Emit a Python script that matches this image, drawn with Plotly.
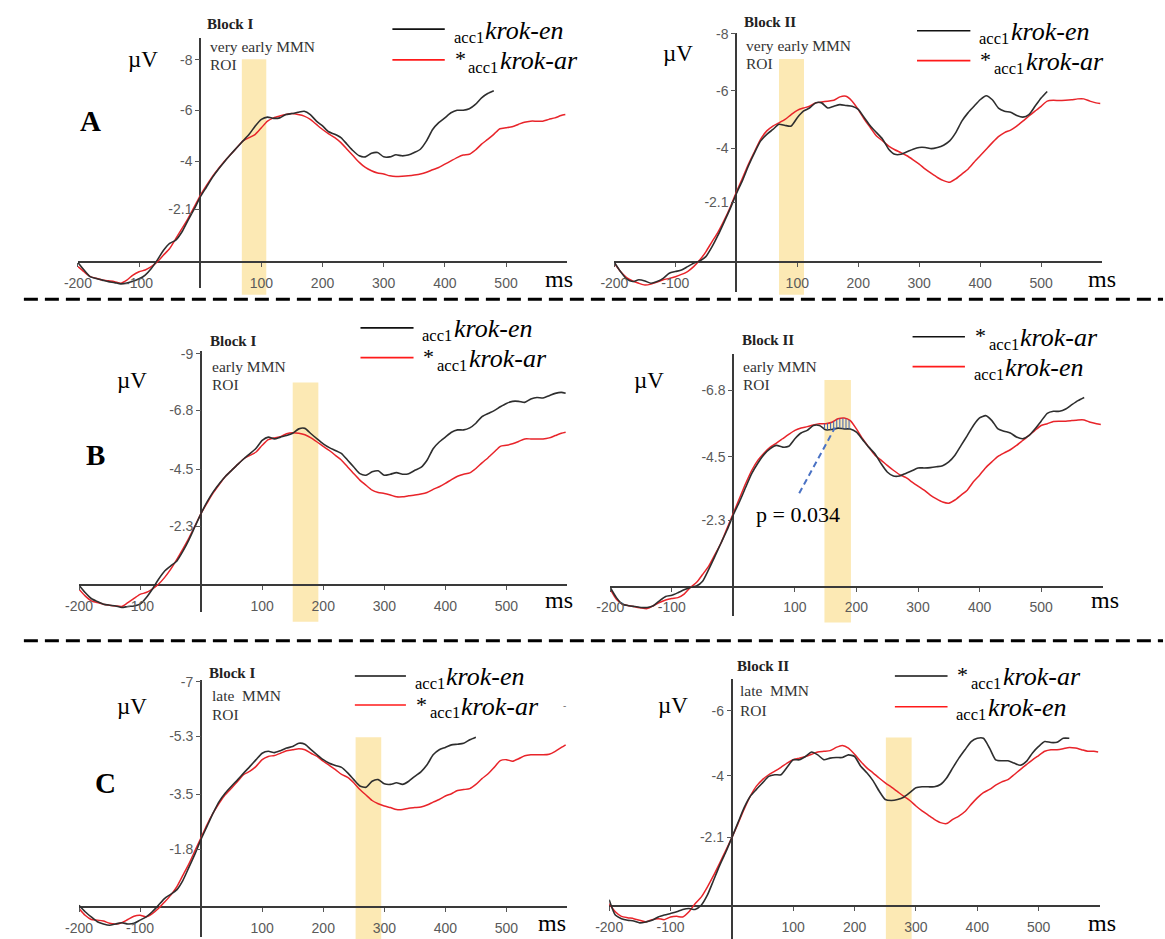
import numpy as np
import plotly.graph_objects as go

W, H = 1165, 939
TIME = list(range(-200, 600, 10)) + [597]   # ms

# ---------------- Row A : very early MMN ROI ----------------
A1_EN = [0.0, 0.3, 0.56, 0.64, 0.7, 0.76, 0.8, 0.85, 0.82, 0.75, 0.65, 0.5, 0.24, -0.1, -0.48, -0.75,
         -0.88, -1.2, -1.66, -2.1, -2.58, -2.97, -3.36, -3.69, -3.99, -4.27, -4.54, -4.8, -5.06, -5.39,
         -5.65, -5.74, -5.69, -5.71, -5.84, -5.88, -5.93, -5.97, -5.84, -5.58, -5.39, -5.16, -5.06, -4.93,
         -4.67, -4.41, -4.21, -4.17, -4.31, -4.34, -4.17, -4.17, -4.25, -4.21, -4.24, -4.34, -4.47, -4.8,
         -5.25, -5.52, -5.71, -5.91, -6.01, -6.01, -6.07, -6.24, -6.5, -6.67, -6.78]
A1_AR = [0.17, 0.37, 0.56, 0.63, 0.7, 0.73, 0.76, 0.82, 0.7, 0.5, 0.37, 0.3, 0.17, -0.03, -0.29, -0.55,
         -0.94, -1.33, -1.73, -2.18, -2.64, -3.03, -3.4, -3.71, -4.01, -4.27, -4.54, -4.8, -4.93, -5.06,
         -5.32, -5.58, -5.71, -5.78, -5.84, -5.88, -5.84, -5.78, -5.65, -5.45, -5.25, -5.08, -4.93, -4.73,
         -4.47, -4.21, -3.95, -3.75, -3.62, -3.53, -3.49, -3.42, -3.39, -3.4, -3.42, -3.45, -3.49, -3.56,
         -3.66, -3.75, -3.88, -4.01, -4.14, -4.24, -4.27, -4.44, -4.67, -4.86, -5.06, -5.28, -5.32, -5.36,
         -5.45, -5.54, -5.58, -5.58, -5.58, -5.65, -5.71, -5.8, -5.84]
A2_EN = [0.0, 0.32, 0.58, 0.67, 0.61, 0.65, 0.73, 0.67, 0.56, 0.38, 0.32, 0.27, 0.15, 0.03, -0.05, -0.2,
         -0.54, -0.95, -1.41, -1.88, -2.4, -2.86, -3.38, -3.84, -4.25, -4.48, -4.65, -4.83, -4.79, -4.77,
         -5.06, -5.29, -5.4, -5.58, -5.58, -5.4, -5.46, -5.52, -5.49, -5.46, -5.35, -5.06, -4.77, -4.54,
         -4.31, -3.96, -3.78, -3.78, -3.87, -3.96, -4.02, -4.02, -3.98, -4.02, -4.1, -4.25, -4.54, -4.94,
         -5.23, -5.46, -5.69, -5.83, -5.69, -5.4, -5.29, -5.25, -5.14, -5.08, -5.17, -5.46, -5.75, -5.98]
A2_AR = [0.03, 0.32, 0.53, 0.65, 0.73, 0.79, 0.76, 0.69, 0.61, 0.56, 0.5, 0.42, 0.32, 0.15, -0.08, -0.37,
         -0.72, -1.06, -1.47, -1.93, -2.45, -2.94, -3.44, -3.88, -4.31, -4.6, -4.77, -4.88, -5.0, -5.17,
         -5.32, -5.4, -5.46, -5.58, -5.61, -5.64, -5.67, -5.79, -5.81, -5.64, -5.35, -5.0, -4.71, -4.42,
         -4.25, -4.07, -3.94, -3.84, -3.73, -3.59, -3.44, -3.26, -3.11, -2.97, -2.86, -2.8, -2.92, -3.09,
         -3.26, -3.5, -3.73, -3.96, -4.19, -4.4, -4.54, -4.63, -4.77, -4.94, -5.12, -5.29, -5.46, -5.64,
         -5.67, -5.66, -5.67, -5.69, -5.72, -5.72, -5.64, -5.58, -5.56]

# ---------------- Row B : early MMN ROI ----------------
B1_EN = [0.0, 0.28, 0.51, 0.63, 0.73, 0.77, 0.8, 0.86, 0.82, 0.8, 0.73, 0.48, 0.15, -0.23, -0.55, -0.75,
         -0.94, -1.32, -1.77, -2.29, -2.8, -3.25, -3.64, -3.96, -4.24, -4.47, -4.7, -4.92, -5.12, -5.33,
         -5.63, -5.76, -5.69, -5.76, -5.82, -5.91, -6.08, -6.1, -5.89, -5.69, -5.5, -5.35, -5.24, -5.12,
         -4.86, -4.6, -4.34, -4.28, -4.41, -4.45, -4.28, -4.32, -4.38, -4.32, -4.34, -4.47, -4.58, -4.86,
         -5.31, -5.57, -5.76, -5.95, -6.04, -6.04, -6.12, -6.3, -6.56, -6.68, -6.79, -6.94, -7.07, -7.15,
         -7.15, -7.11, -7.24, -7.3, -7.28, -7.37, -7.46, -7.5, -7.46]
B1_AR = [0.15, 0.41, 0.6, 0.67, 0.73, 0.77, 0.8, 0.82, 0.67, 0.51, 0.35, 0.28, 0.15, -0.04, -0.3, -0.62,
         -1.0, -1.41, -1.84, -2.31, -2.8, -3.21, -3.6, -3.93, -4.24, -4.47, -4.7, -4.92, -5.05, -5.18,
         -5.44, -5.66, -5.73, -5.78, -5.89, -5.93, -5.91, -5.85, -5.73, -5.57, -5.4, -5.24, -5.05, -4.86,
         -4.6, -4.34, -4.09, -3.89, -3.7, -3.61, -3.57, -3.51, -3.44, -3.44, -3.48, -3.51, -3.55, -3.61,
         -3.73, -3.83, -3.96, -4.11, -4.24, -4.32, -4.37, -4.54, -4.76, -4.96, -5.18, -5.4, -5.44, -5.5,
         -5.59, -5.69, -5.69, -5.69, -5.69, -5.73, -5.82, -5.91, -5.95]
B2_AR = [0.03, 0.38, 0.61, 0.66, 0.69, 0.72, 0.72, 0.66, 0.49, 0.34, 0.3, 0.21, 0.11, 0.03, -0.02, -0.19,
         -0.6, -1.05, -1.51, -1.97, -2.49, -2.94, -3.44, -3.92, -4.28, -4.58, -4.78, -4.89, -4.83, -4.86,
         -5.12, -5.32, -5.41, -5.58, -5.58, -5.43, -5.44, -5.49, -5.46, -5.46, -5.35, -5.09, -4.83, -4.6,
         -4.26, -3.97, -3.83, -3.83, -3.92, -4.01, -4.11, -4.11, -4.12, -4.15, -4.19, -4.32, -4.55, -4.89,
         -5.23, -5.58, -5.84, -5.92, -5.75, -5.46, -5.38, -5.32, -5.18, -5.12, -5.23, -5.46, -5.73, -6.0,
         -6.07, -6.07, -6.15, -6.3, -6.44, -6.55]
B2_EN = [0.09, 0.44, 0.61, 0.66, 0.7, 0.74, 0.76, 0.66, 0.55, 0.46, 0.41, 0.38, 0.26, 0.03, -0.14, -0.42,
         -0.71, -1.11, -1.51, -2.03, -2.54, -3.06, -3.57, -4.03, -4.38, -4.63, -4.83, -4.97, -5.12, -5.27,
         -5.41, -5.49, -5.54, -5.6, -5.64, -5.64, -5.69, -5.81, -5.84, -5.75, -5.46, -5.12, -4.83, -4.55,
         -4.38, -4.2, -4.03, -3.88, -3.78, -3.63, -3.48, -3.34, -3.17, -3.04, -2.93, -2.89, -3.0, -3.17,
         -3.34, -3.63, -3.86, -4.12, -4.32, -4.51, -4.63, -4.74, -4.89, -5.06, -5.23, -5.41, -5.58, -5.64,
         -5.72, -5.73, -5.73, -5.75, -5.77, -5.77, -5.69, -5.64, -5.61]

# ---------------- Row C : late MMN ROI ----------------
C1_EN = [-0.05, 0.15, 0.31, 0.46, 0.53, 0.57, 0.53, 0.49, 0.53, 0.51, 0.41, 0.31, 0.15, -0.05, -0.26, -0.39,
         -0.53, -0.82, -1.23, -1.65, -2.11, -2.52, -2.93, -3.29, -3.55, -3.76, -3.96, -4.17, -4.37, -4.58,
         -4.78, -4.84, -4.8, -4.86, -4.94, -4.99, -5.09, -5.06, -4.89, -4.73, -4.58, -4.47, -4.4, -4.34,
         -4.17, -3.96, -3.76, -3.72, -3.91, -3.96, -3.83, -3.81, -3.86, -3.81, -3.91, -4.06, -4.2, -4.42,
         -4.73, -4.89, -4.96, -5.04, -5.06, -5.09, -5.2, -5.28]
C1_AR = [0.05, 0.26, 0.39, 0.41, 0.44, 0.51, 0.53, 0.49, 0.39, 0.29, 0.26, 0.31, 0.21, 0.05, -0.15, -0.36,
         -0.62, -0.98, -1.34, -1.75, -2.16, -2.57, -2.93, -3.24, -3.5, -3.7, -3.91, -4.12, -4.22, -4.37,
         -4.58, -4.68, -4.71, -4.78, -4.86, -4.89, -4.92, -4.89, -4.78, -4.68, -4.53, -4.4, -4.27, -4.12,
         -4.03, -3.86, -3.65, -3.48, -3.31, -3.21, -3.14, -3.09, -3.03, -3.03, -3.07, -3.09, -3.11, -3.17,
         -3.26, -3.34, -3.45, -3.52, -3.62, -3.65, -3.68, -3.81, -3.99, -4.14, -4.34, -4.55, -4.58, -4.53,
         -4.61, -4.7, -4.73, -4.73, -4.73, -4.75, -4.84, -4.96, -5.04]
C2_AR = [-0.19, 0.28, 0.39, 0.44, 0.46, 0.52, 0.49, 0.44, 0.34, 0.28, 0.23, 0.18, 0.11, 0.08, 0.11, -0.02,
         -0.33, -0.78, -1.24, -1.65, -2.1, -2.56, -3.02, -3.37, -3.58, -3.78, -3.98, -4.03, -4.03, -4.26,
         -4.49, -4.49, -4.59, -4.73, -4.64, -4.49, -4.54, -4.56, -4.56, -4.64, -4.59, -4.29, -4.09, -3.85,
         -3.53, -3.27, -3.24, -3.27, -3.34, -3.48, -3.63, -3.66, -3.66, -3.66, -3.73, -3.93, -4.24, -4.54,
         -4.8, -5.05, -5.15, -5.15, -4.85, -4.49, -4.46, -4.46, -4.39, -4.32, -4.44, -4.7, -4.9, -5.05,
         -5.02, -5.03, -5.15, -5.15]
C2_EN = [-0.07, 0.18, 0.32, 0.36, 0.39, 0.44, 0.49, 0.42, 0.39, 0.42, 0.34, 0.32, 0.34, 0.18, -0.07, -0.27,
         -0.58, -0.93, -1.31, -1.7, -2.1, -2.53, -2.97, -3.37, -3.68, -3.88, -4.03, -4.14, -4.26, -4.39,
         -4.49, -4.54, -4.59, -4.66, -4.73, -4.75, -4.77, -4.87, -4.93, -4.85, -4.66, -4.44, -4.24, -4.09,
         -3.93, -3.78, -3.65, -3.51, -3.37, -3.24, -3.07, -2.92, -2.79, -2.66, -2.56, -2.53, -2.66, -2.76,
         -2.9, -3.12, -3.32, -3.48, -3.58, -3.71, -3.81, -3.88, -4.03, -4.19, -4.34, -4.49, -4.62, -4.75,
         -4.8, -4.8, -4.83, -4.87, -4.85, -4.8, -4.75, -4.75, -4.73]

# ROI windows (ms)
ROI_A1, ROI_A2 = [68, 108], [70, 111]
ROI_B1, ROI_B2 = [150, 192], [148, 191]
ROI_C1, ROI_C2 = [253, 295], [251, 293]

X_TICKS = [-200, -100, 100, 200, 300, 400, 500]
Y_TICKS_A = [-2.1, -4, -6, -8]
Y_TICKS_B1 = [-2.3, -4.5, -6.8, -9]
Y_TICKS_B2 = [-2.3, -4.5, -6.8]
Y_TICKS_C1 = [-1.8, -3.5, -5.3, -7]
Y_TICKS_C2 = [-2.1, -4, -6]

SIG_P = "p = 0.034"
SIG_WINDOW = [148, 188]

BLACK = "#2e2e2e"
RED = "#e8242a"
SERIF = "Liberation Serif, Times New Roman, serif"
SANS = "Liberation Sans, Arial, sans-serif"

# legend labels: (star, subscript, word)
LEG_EN = ("", "acc1", "krok-en")
LEG_AR = ("*", "acc1", "krok-ar")

# layout geometry (pixels) for every panel
panels = [
    dict(px0=188.5, pxms=0.619, axis=257.3, pxuv=25.5, ytop=31.7, ybot=283.0, yt=Y_TICKS_A,
         roi=ROI_A1, band=(52.7, 290.0), black=A1_EN, red=A1_AR, block="Block I",
         roi_txt="very early MMN", leg=(383, 436, 22.3, 53.3), leg_txt=(LEG_EN, LEG_AR),
         uv=(130.4, 53.3), ms=(551.5, 274), blockpos=(193, 16.7), roipos=(196, 40, 57.7)),
    dict(px0=731.1, pxms=0.617, axis=257.3, pxuv=28.8, ytop=26.0, ybot=286.7, yt=Y_TICKS_A,
         roi=ROI_A2, band=(52.3, 290.0), black=A2_EN, red=A2_AR, block="Block II",
         roi_txt="very early MMN", leg=(914, 968, 24, 54), leg_txt=(LEG_EN, LEG_AR),
         uv=(672, 46.7), ms=(1100.8, 274), blockpos=(736.7, 15), roipos=(738.6, 39, 57)),
    dict(px0=189.4, pxms=0.618, axis=582.7, pxuv=25.93, ytop=346.7, ybot=609.3, yt=Y_TICKS_B1,
         roi=ROI_B1, band=(378.3, 619.3), black=B1_EN, red=B1_AR, block="Block I",
         roi_txt="early MMN", leg=(350.7, 404.4, 323.3, 353.3), leg_txt=(LEG_EN, LEG_AR),
         uv=(119.2, 376), ms=(551.5, 597), blockpos=(196, 336.7), roipos=(198.7, 361.7, 380.7)),
    dict(px0=728.1, pxms=0.623, axis=584.0, pxuv=29.1, ytop=350.0, ybot=614.0, yt=Y_TICKS_B2,
         roi=ROI_B2, band=(375.7, 620.0), black=B2_AR, red=B2_EN, block="Block II",
         roi_txt="early MMN", leg=(909.5, 962.5, 332.3, 362.3), leg_txt=(LEG_AR, LEG_EN),
         uv=(642.5, 376.7), ms=(1104, 597.3), blockpos=(734.9, 336), roipos=(736, 361.7, 380.7)),
    dict(px0=189.4, pxms=0.618, axis=906.7, pxuv=32.4, ytop=678.3, ybot=936.7, yt=Y_TICKS_C1,
         roi=ROI_C1, band=(735.7, 939.0), black=C1_EN, red=C1_AR, block="Block I",
         roi_txt="late  MMN", leg=(345, 396.7, 674, 703.3), leg_txt=(LEG_EN, LEG_AR),
         uv=(119.2, 705), ms=(544.5, 923.3), blockpos=(195, 670.7), roipos=(198, 694, 713.3)),
    dict(px0=726.6, pxms=0.621, axis=905.7, pxuv=32.8, ytop=676.7, ybot=939.0, yt=Y_TICKS_C2,
         roi=ROI_C2, band=(736.0, 939.0), black=C2_AR, red=C2_EN, block="Block II",
         roi_txt="late  MMN", leg=(891.6, 944.9, 674, 705), leg_txt=(LEG_AR, LEG_EN),
         uv=(667, 703.3), ms=(1101, 923.3), blockpos=(730, 663.7), roipos=(733, 689, 708.3)),
]


def fx(px):
    return px / W


def fy(py):
    return 1 - py / H


def txt(text, px, py, size, family=SERIF, color="black", xanchor="left", weight="normal", style="normal"):
    return dict(text=text, x=fx(px), y=fy(py), xref="paper", yref="paper", xanchor=xanchor,
                yanchor="middle", showarrow=False,
                font=dict(family=family, size=size, color=color, weight=weight, style=style))


fig = go.Figure()
shapes, annotations = [], []
layout_axes = {}

for i, p in enumerate(panels, start=1):
    xs = "" if i == 1 else str(i)
    xname, yname = "x" + xs, "y" + xs
    xdom = [fx(p["px0"] - 200 * p["pxms"]), fx(p["px0"] + 600 * p["pxms"])]
    ydom = [fy(p["ybot"]), fy(p["ytop"])]
    yrng = [(p["ybot"] - p["axis"]) / p["pxuv"], (p["ytop"] - p["axis"]) / p["pxuv"]]
    layout_axes["xaxis" + xs] = dict(
        domain=xdom, range=[-200, 600], anchor="free", position=fy(p["axis"]),
        showgrid=False, showline=False, zeroline=True, zerolinecolor="#3a3a3a", zerolinewidth=1.6,
        tickvals=X_TICKS, ticktext=[str(v) for v in X_TICKS], ticks="outside", ticklen=4,
        tickcolor="#555", tickwidth=1.2, tickfont=dict(family=SANS, size=14, color="#5a5a5a"),
        ticklabelstandoff=4, fixedrange=True)
    layout_axes["yaxis" + xs] = dict(
        domain=ydom, range=yrng, anchor="free", position=fx(p["px0"]),
        showgrid=False, showline=False, zeroline=True, zerolinecolor="#3a3a3a", zerolinewidth=1.6,
        tickvals=p["yt"], ticktext=[str(v) for v in p["yt"]], ticks="outside", ticklen=5,
        tickcolor="#555", tickwidth=1.2, tickfont=dict(family=SANS, size=14, color="#5a5a5a"),
        fixedrange=True)

    # ROI band
    shapes.append(dict(type="rect", xref=xname, yref="paper", x0=p["roi"][0], x1=p["roi"][1],
                       y0=fy(p["band"][1]), y1=fy(p["band"][0]), fillcolor="rgb(252,233,180)",
                       line=dict(width=0), layer="below"))

    # curves
    fig.add_trace(go.Scatter(x=TIME[:len(p["red"])], y=p["red"], mode="lines",
                             line=dict(color=RED, width=1.5, shape="spline", smoothing=0.6),
                             xaxis=xname, yaxis=yname, showlegend=False, hoverinfo="skip"))
    fig.add_trace(go.Scatter(x=TIME[:len(p["black"])], y=p["black"], mode="lines",
                             line=dict(color=BLACK, width=1.6, shape="spline", smoothing=0.6),
                             xaxis=xname, yaxis=yname, showlegend=False, hoverinfo="skip"))

    # legend (line samples + labels)
    x0, x1, yk, yr = p["leg"]
    for yy, col, lab in ((yk, "#111", p["leg_txt"][0]), (yr, "#ff1a1a", p["leg_txt"][1])):
        shapes.append(dict(type="line", xref="paper", yref="paper", x0=fx(x0), x1=fx(x1),
                           y0=fy(yy), y1=fy(yy), line=dict(color=col, width=1.6)))
        star, sub, word = lab
        if star:
            annotations.append(txt(star, x1 + 8, yy - 1, 22))
            annotations.append(txt(sub, x1 + 22, yy + 8, 16.5))
            annotations.append(txt(word, x1 + 54, yy + 1, 26, style="italic"))
        else:
            annotations.append(txt(sub, x1 + 7, yy + 8, 16.5))
            annotations.append(txt(word, x1 + 39, yy + 1, 26, style="italic"))

    # panel texts
    bx, by = p["blockpos"]
    annotations.append(txt(p["block"], bx, by, 15, color="#222", weight="bold"))
    rx, ry1, ry2 = p["roipos"]
    annotations.append(txt(p["roi_txt"], rx, ry1, 15.5, color="#333"))
    annotations.append(txt("ROI", rx, ry2, 15.5, color="#333"))
    annotations.append(txt("µV", p["uv"][0], p["uv"][1], 23, xanchor="center"))
    annotations.append(txt("ms", p["ms"][0], p["ms"][1], 24, xanchor="center"))

# significance hatching in row B, Block II (between the two curves)
pB = panels[3]
t_h = np.arange(SIG_WINDOW[0], SIG_WINDOW[1] + 1, 5)
ya = np.interp(t_h, TIME[:len(pB["black"])], pB["black"])
yb = np.interp(t_h, TIME[:len(pB["red"])], pB["red"])
hx, hy = [], []
for t, a, b in zip(t_h, ya, yb):
    hx += [t, t, None]
    hy += [a, b, None]
fig.add_trace(go.Scatter(x=hx, y=hy, mode="lines", line=dict(color="#3f63b0", width=1),
                         xaxis="x4", yaxis="y4", showlegend=False, hoverinfo="skip"))
shapes.append(dict(type="line", xref="x4", yref="y4", x0=107, y0=-3.23, x1=165, y1=-5.5,
                   line=dict(color="#4a72c4", width=2, dash="6px,4px")))
annotations.append(txt(SIG_P, 794, 511.7, 22, xanchor="center"))

# row letters
for letter, (lx, ly) in zip(["A", "B", "C"], [(77.3, 115), (82, 451.7), (92.3, 781.7)]):
    annotations.append(txt(letter, lx, ly, 29, xanchor="center", weight="bold"))

# stray mark in row C legend
annotations.append(txt("-", 556.7, 703.3, 10, family=SANS, color="#777", xanchor="center"))

# dashed row separators
for yy in (294.5, 638.5):
    shapes.append(dict(type="line", xref="paper", yref="paper", x0=fx(10), x1=fx(1163),
                       y0=fy(yy), y1=fy(yy), line=dict(color="black", width=3, dash="14px,7px")))

fig.update_layout(
    width=W, height=H, margin=dict(l=0, r=0, t=0, b=0),
    paper_bgcolor="white", plot_bgcolor="rgba(0,0,0,0)",
    shapes=shapes, annotations=annotations, showlegend=False, **layout_axes)

fig.write_html("out.html", post_script="document.body.style.margin='0px';")
